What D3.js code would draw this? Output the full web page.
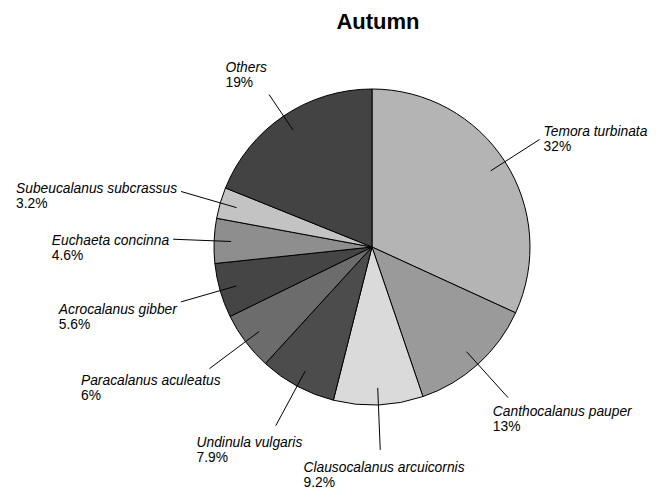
<!DOCTYPE html>
<html>
<head>
	<meta charset="utf-8">
	<title>Autumn</title>
	<script src="https://d3js.org/d3.v7.min.js"></script>
	<style>
		body {
			margin: 0;
			background: #fff;
		}
		svg {
			display: block;
			font-family: 'Liberation Sans', Arial, sans-serif;
		}
		.title {
			font-size: 22px;
			font-weight: bold;
		}
		.name {
			font-size: 13.8px;
			font-style: italic;
		}
		.pct {
			font-size: 13.8px;
		}
	</style>
</head>
<body>
	<div id="chart"></div>
<script>

	// Data, clockwise from 12 o'clock.
	const species = [
		'Temora turbinata',
		'Canthocalanus pauper',
		'Clausocalanus arcuicornis',
		'Undinula vulgaris',
		'Paracalanus aculeatus',
		'Acrocalanus gibber',
		'Euchaeta concinna',
		'Subeucalanus subcrassus',
		'Others'
	];
	const shares = [32, 13, 9.2, 7.9, 6, 5.6, 4.6, 3.2, 19];

	const greys = ['#b4b4b4', '#9a9a9a', '#dadada', '#4c4c4c', '#6c6c6c',
		'#454545', '#8e8e8e', '#c3c3c3', '#434343'];

	const width = 664;
	const height = 490;
	const radius = 158;
	const center = {x: 372, y: 247};

	const svg = d3.select('#chart')
	.append('svg')
		.attr('width', width)
		.attr('height', height);

	svg.append('text')
		.attr('class', 'title')
		.attr('x', 378)
		.attr('y', 29)
		.attr('text-anchor', 'middle')
		.text('Autumn');

	const g = svg.append('g')
		.attr('transform', 'translate(' + center.x + ',' + center.y + ')');

	const color = d3.scaleOrdinal().domain(species).range(greys);

	const pie = d3.pie().sort(null).value(function (d) { return d.value; });
	const slices = pie(species.map(function (s, i) { return {name: s, value: shares[i]}; }));

	const arc = d3.arc().innerRadius(0).outerRadius(radius);
	// Leader lines run radially from inside the slice to just outside the pie.
	const innerR = 141;
	const outerR = 203;
	const lineEnd = d3.arc().innerRadius(outerR).outerRadius(outerR);

	g.selectAll('path.slice')
		.data(slices)
		.join('path')
			.attr('class', 'slice')
			.attr('d', arc)
			.attr('fill', function (d) { return color(d.data.name); })
			.attr('stroke', '#000')
			.attr('stroke-width', 1);

	const leaders = g.append('g');

	const labels = g.selectAll('g.label')
		.data(slices)
		.join('g')
			.attr('class', 'label');

	labels.append('text')
		.attr('class', 'name')
		.attr('y', 11)
		.text(function (d) { return d.data.name; });

	labels.append('text')
		.attr('class', 'pct')
		.attr('y', 26)
		.text(function (d) { return d.data.value + '%'; });

	// Distance along the ray (dx, dy) from the centre where it enters a box, or Infinity.
	function rayEnter(dx, dy, box) {
		let tIn = 0, tOut = Infinity;
		const dims = [[dx, box.x0, box.x1], [dy, box.y0, box.y1]];
		for (const [u, lo, hi] of dims) {
			if (Math.abs(u) < 1e-9) {
				if (lo > 0 || hi < 0) return Infinity;
				continue;
			}
			let t0 = lo / u, t1 = hi / u;
			if (t0 > t1) [t0, t1] = [t1, t0];
			tIn = Math.max(tIn, t0);
			tOut = Math.min(tOut, t1);
		}
		return tIn <= tOut ? tIn : Infinity;
	}

	// Place each label box around the end of its leader line, depending on the angle.
	const h = 29;
	const pad = 4;
	labels.each(function (d) {
		const texts = d3.select(this).selectAll('text').nodes();
		const w = d3.max(texts, function (t) { return t.getComputedTextLength(); });
		const a = (d.startAngle + d.endAngle) / 2;
		const p = lineEnd.centroid(d);
		const fx = Math.max(-1, Math.min(0, -(1 - 1.05 * Math.sin(a)) / 2));
		const left = p[0] + w * fx + 8 * Math.max(0, Math.sin(a));
		let top = p[1] - h * (0.14 + 0.55 * Math.cos(a));
		top = Math.min(top, height - center.y - h);
		d3.select(this).attr('transform', 'translate(' + left + ',' + top + ')');
		d.box = {x0: left - pad, x1: left + w + pad, y0: top - pad, y1: top + h + pad};
	});

	leaders.selectAll('line')
		.data(slices)
		.join('line')
			.each(function (d) {
				const a = (d.startAngle + d.endAngle) / 2;
				const ux = Math.sin(a), uy = -Math.cos(a);
				const r2 = Math.min(outerR, rayEnter(ux, uy, d.box));
				d3.select(this)
					.attr('x1', ux * innerR)
					.attr('y1', uy * innerR)
					.attr('x2', ux * r2)
					.attr('y2', uy * r2);
			})
			.attr('stroke', '#000')
			.attr('stroke-width', 1);

</script>
</body>
</html>
